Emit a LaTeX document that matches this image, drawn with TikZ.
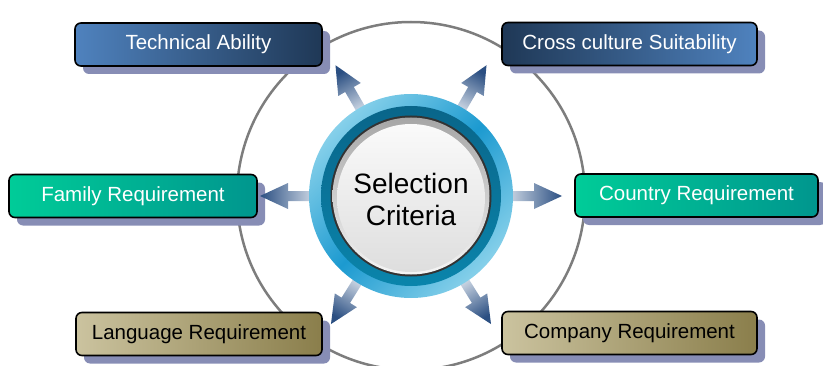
\documentclass[tikz,border=0pt]{standalone}
\usepackage{fontspec}
\setmainfont{Liberation Sans}
\usetikzlibrary{shadows,calc}
\definecolor{shadowc}{HTML}{878DB5}
\definecolor{blueL}{HTML}{4F82BE}
\definecolor{blueD}{HTML}{1F3856}
\definecolor{greenL}{HTML}{00CC98}
\definecolor{greenD}{HTML}{00968E}
\definecolor{tanL}{HTML}{CBC39F}
\definecolor{tanD}{HTML}{8A7E4B}
\definecolor{arrL}{HTML}{E2E9F1}
\definecolor{arrD}{HTML}{2B4F82}
\definecolor{ringL}{HTML}{86D0EA}
\definecolor{ringM}{HTML}{1C9AD0}
\definecolor{ringD}{HTML}{0B77A2}
\definecolor{bigc}{HTML}{7D7D7D}
\begin{document}
\begin{tikzpicture}[x=1pt,y=1pt,
  box/.style={draw=black, line width=1.6pt, rounded corners=6pt,
    font=\fontsize{20.5}{24}\selectfont, inner sep=0pt,
    minimum height=43pt,
    drop shadow={shadow xshift=8pt, shadow yshift=-8pt, fill=shadowc, opacity=1}},
  bluebox/.style={box, text=white},
  greenbox/.style={box, text=white, left color=greenL, right color=greenD},
  tanbox/.style={box, text=black, left color=tanL, right color=tanD},
  arrowshape/.style={top color=arrD, bottom color=arrL}]
\useasboundingbox (0,0) rectangle (823,365);
\coordinate (c) at (411,169);
% big gray circle
\draw[bigc, line width=2.5pt] (c) circle (174pt);
% boxes
\node[bluebox, left color=blueL, right color=blueD, minimum width=247pt] (tech) at (198.5,320.5) {Technical Ability};
\node[bluebox, left color=blueD, right color=blueL, minimum width=255pt] (cross) at (629.5,321) {Cross culture Suitability};
\node[greenbox, minimum width=248pt] (family) at (133,169) {Family Requirement};
\node[greenbox, minimum width=243pt] (country) at (696.5,169.5) {Country Requirement};
\node[tanbox, minimum width=246pt] (lang) at (199,31) {Language Requirement};
\node[tanbox, minimum width=255pt] (comp) at (629.5,32) {Company Requirement};
% arrows
\foreach \a/\n in {120/1, 60/2, 180/3, 0/4, 238/5, 302/6} {
  \pgfmathsetmacro\sa{\a-90}
  \coordinate (tip\n) at ($(c)+(\a:151pt)$);
  \shade[arrowshape, shading angle=\sa]
    ($(c)+(\a:90pt)+(\a-90:5pt)$) -- ($(c)+(\a:123pt)+(\a-90:5pt)$)
    -- ($(c)+(\a:123pt)+(\a-90:13pt)$) -- (tip\n)
    -- ($(c)+(\a:123pt)+(\a+90:13pt)$) -- ($(c)+(\a:123pt)+(\a+90:5pt)$)
    -- ($(c)+(\a:90pt)+(\a+90:5pt)$) -- cycle;
}
% central ring
\shade[left color=ringL, right color=ringL, middle color=ringM, shading angle=45] (c) circle (102pt);
\shade[top color=ringD!85!black, bottom color=ringD!90!cyan] (c) circle (90pt);
\fill[black!80] (c) circle (80.5pt);
\shade[top color=black!35, bottom color=black!4] (c) circle (78.5pt);
\shade[top color=black!2, bottom color=black!13] ($(c)+(0,-2)$) circle (74pt);
\node[align=center, font=\fontsize{28}{32}\selectfont, text=black] (center) at ($(c)+(0,-3)$) {Selection\\Criteria};
\end{tikzpicture}
\end{document}
